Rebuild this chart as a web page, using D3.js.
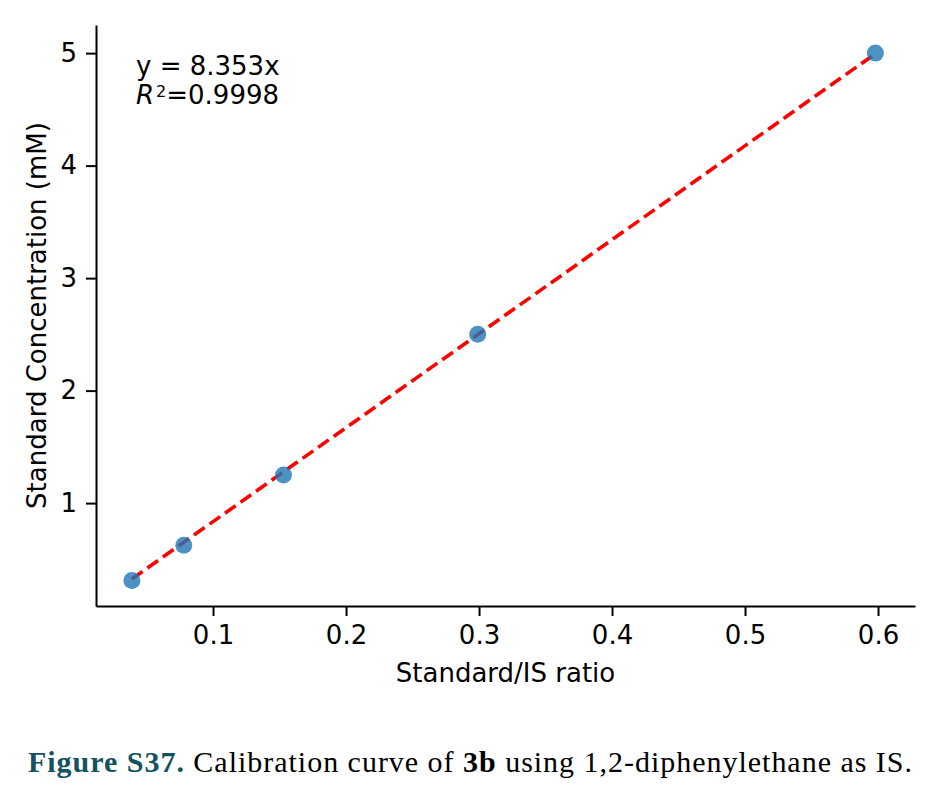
<!DOCTYPE html>
<html>
<head>
<meta charset="utf-8">
<script src="https://cdn.jsdelivr.net/npm/d3@7"></script>
<style>
  body { margin: 0; background: #fff; }
  svg text { font-family: "DejaVu Sans", sans-serif; }
</style>
</head>
<body>
<svg width="938" height="796"></svg>
<script>
// ratio vs concentration
const ratios = [0.039, 0.078, 0.153, 0.299, 0.598];
const concentrations = [0.3125, 0.625, 1.25, 2.5, 5.0];
const slope = 8.353;
const xTicks = [0.1, 0.2, 0.3, 0.4, 0.5, 0.6];
const yTicks = [1, 2, 3, 4, 5];

const svg = d3.select("svg");
const plotLeft = 96, plotRight = 915, plotTop = 25, plotBottom = 606;
const fs = 26;

const x = d3.scaleLinear().domain([0.012, 0.6278]).range([plotLeft, plotRight]);
const y = d3.scaleLinear().domain([0.0853, 5.25]).range([plotBottom, plotTop]);

const g = svg.append("g");

// axes
const xAxis = g.append("g")
    .attr("transform", `translate(0,${plotBottom})`)
    .call(d3.axisBottom(x).tickValues(xTicks).tickFormat(d3.format(".1f")).tickSize(10).tickPadding(10).tickSizeOuter(0));
const yAxis = g.append("g")
    .attr("transform", `translate(${plotLeft},0)`)
    .call(d3.axisLeft(y).tickValues(yTicks).tickFormat(d3.format("d")).tickSize(10).tickPadding(9).tickSizeOuter(0));

[xAxis, yAxis].forEach(a => {
  a.select(".domain").attr("stroke", "#000").attr("stroke-width", 2);
  a.selectAll(".tick line").attr("stroke", "#000").attr("stroke-width", 2);
  a.selectAll(".tick text").style("font-size", fs + "px").attr("fill", "#000")
      .style("font-family", "'DejaVu Sans', sans-serif");
});

// fit line
const x0 = ratios[0], x1 = ratios[ratios.length - 1];
g.append("line")
    .attr("x1", x(x0)).attr("y1", y(slope * x0))
    .attr("x2", x(x1)).attr("y2", y(slope * x1))
    .attr("stroke", "#ff0000")
    .attr("stroke-width", 3.6)
    .attr("stroke-dasharray", "13,6");

// points
g.selectAll("circle")
    .data(ratios)
    .enter().append("circle")
    .attr("cx", d => x(d))
    .attr("cy", (d, i) => y(concentrations[i]))
    .attr("r", 8.5)
    .attr("fill", "#1f77b4")
    .attr("fill-opacity", 0.8);

// annotation
g.append("text").style("font-size", fs + "px")
    .attr("x", 136).attr("y", 75).text("y = 8.353x");
const r2 = g.append("text").style("font-size", fs + "px").attr("x", 136).attr("y", 104);
r2.append("tspan").attr("font-style", "italic").text("R");
r2.append("tspan").style("font-size", "16px").attr("dy", -7).attr("dx", 2).text("2");
r2.append("tspan").attr("dy", 7).text("=0.9998");

// axis labels
g.append("text")
    .attr("x", (plotLeft + plotRight) / 2).attr("y", 682)
    .attr("text-anchor", "middle").style("font-size", fs + "px")
    .text("Standard/IS ratio");
g.append("text")
    .attr("transform", `translate(46,${(plotTop + plotBottom) / 2}) rotate(-90)`)
    .attr("text-anchor", "middle").style("font-size", fs + "px")
    .text("Standard Concentration (mM)");

// caption
const cap = svg.append("text")
    .attr("x", 28).attr("y", 772)
    .attr("textLength", 884)
    .attr("lengthAdjust", "spacing")
    .style("font-size", "30px")
    .style("font-family", "'Liberation Serif', serif");
cap.append("tspan").attr("fill", "#13525e").attr("font-weight", "bold").text("Figure S37.");
cap.append("tspan").attr("fill", "#000").text(" Calibration curve of ");
cap.append("tspan").attr("fill", "#000").attr("font-weight", "bold").text("3b");
cap.append("tspan").attr("fill", "#000").text(" using 1,2-diphenylethane as IS.");
</script>
</body>
</html>
